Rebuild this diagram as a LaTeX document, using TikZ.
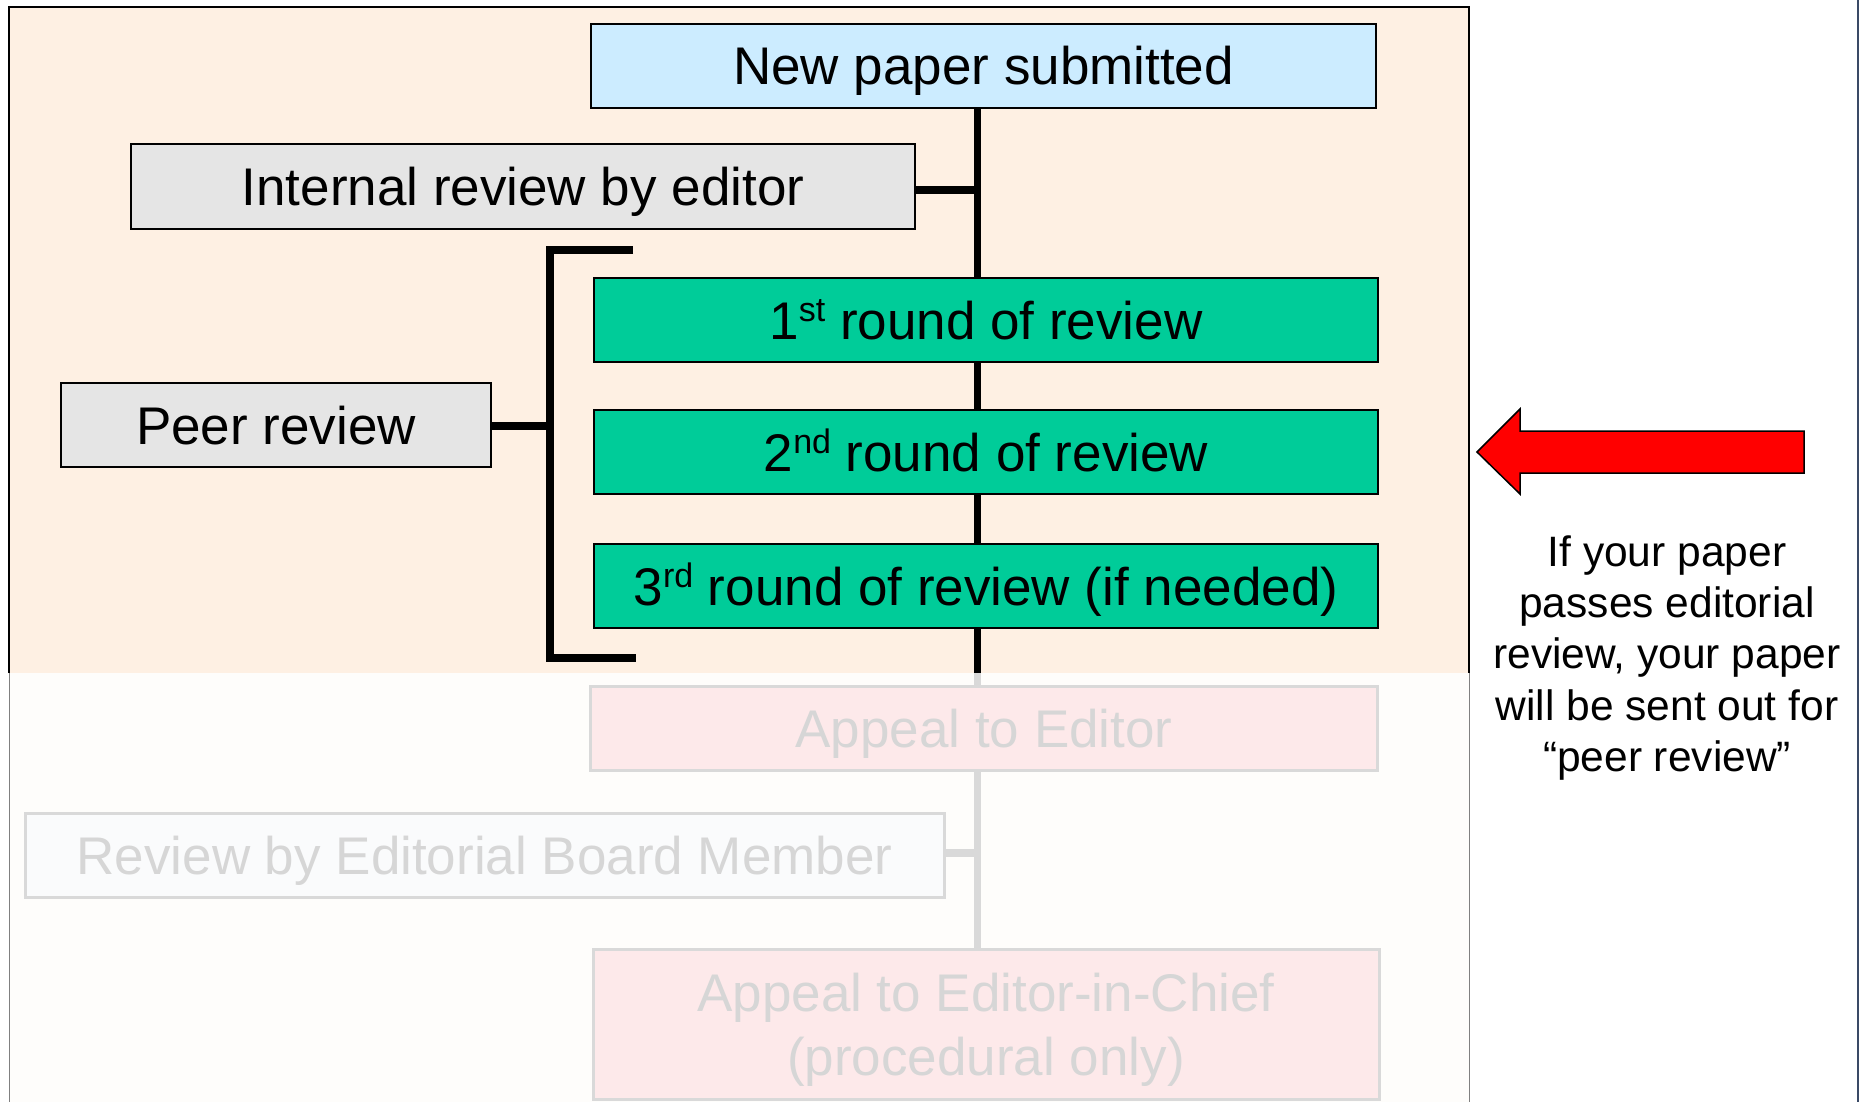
\documentclass[tikz,border=0pt]{standalone}
\usepackage{fontspec}
\setmainfont{Liberation Sans}
\definecolor{peach}{HTML}{FEF0E3}
\definecolor{lowbg}{HTML}{FEFDFB}
\definecolor{lblue}{HTML}{CCECFF}
\definecolor{gbox}{HTML}{E5E5E5}
\definecolor{green}{HTML}{00CC99}
\definecolor{pinkbox}{HTML}{FDE9EA}
\definecolor{fadeline}{HTML}{D9D9D9}
\definecolor{fadetext}{HTML}{D6D6D6}
\definecolor{ebmbox}{HTML}{FAFBFC}
\definecolor{navyedge}{HTML}{3A4A66}
\newcommand{\bigf}{\fontsize{53}{64}\selectfont}
\newcommand{\sidef}{\fontsize{42.5}{51.4}\selectfont}
\newcommand{\supx}[1]{\raisebox{18pt}{\fontsize{34}{34}\selectfont #1}}
\begin{document}
\begin{tikzpicture}[x=1pt,y=-1pt,
  box/.style={draw=black, line width=2pt, inner sep=0pt, minimum height=84pt, font=\bigf, text=black, align=center, text height=38pt, text depth=0pt},
  fadebox/.style={draw=fadeline, line width=3pt, inner sep=0pt, minimum height=84pt, font=\bigf, text=fadetext, align=center, text height=38pt, text depth=0pt},
  trunk/.style={line width=7pt, black},
  link/.style={line width=8pt, black},
  fadetrunk/.style={line width=7pt, fadeline},
  fadelink/.style={line width=8pt, fadeline}]
\useasboundingbox (0,0) rectangle (1860,1102);
\fill[white] (0,0) rectangle (1860,1102);
% backgrounds
\fill[peach] (9,7) rectangle (1469,673);
\fill[lowbg] (9,673) rectangle (1469,1102);
\draw[line width=2pt, black] (9,673) -- (9,7) -- (1469,7) -- (1469,673);
\draw[line width=1pt, gray] (9,673) -- (9,1102);
\draw[line width=1pt, gray] (1469,673) -- (1469,1102);
\draw[line width=2pt, navyedge] (1858,0) -- (1858,1102);

% nodes
\node[box, fill=lblue, minimum width=785pt] (new) at (983.5,66) {New paper submitted};
\node[box, fill=gbox, minimum width=784pt] (internal) at (523,186.5) {Internal review by editor};
\node[box, fill=green, minimum width=784pt] (r1) at (986,320) {1\supx{st} round of review};
\node[box, fill=green, minimum width=784pt] (r2) at (986,452) {2\supx{nd} round of review};
\node[box, fill=green, minimum width=784pt] (r3) at (986,586) {3\supx{rd} round of review (if needed)};
\node[box, fill=gbox, minimum width=430pt] (peer) at (276,425) {Peer review};
\node[fadebox, fill=pinkbox, minimum width=787pt] (appeal) at (984,728.5) {Appeal to Editor};
\node[fadebox, fill=ebmbox, minimum width=919pt] (ebm) at (484.5,855) {Review by Editorial Board Member};
\node[fadebox, fill=pinkbox, minimum width=786pt, minimum height=150pt, text height=102pt] (eic) at (986,1024) {Appeal to Editor-in-Chief\\(procedural only)};

% coordinates
\coordinate (cut) at (977,673);
\coordinate (bt) at (550,250);
\coordinate (bb) at (550,658);
\coordinate (btr) at (633,250);
\coordinate (bbr) at (636,658);

% trunk
\draw[trunk] (new.south -| cut) -- (r1.north -| cut);
\draw[trunk] (r1.south -| cut) -- (r2.north -| cut);
\draw[trunk] (r2.south -| cut) -- (r3.north -| cut);
\draw[trunk] (r3.south -| cut) -- (cut);
\draw[fadetrunk] (cut) -- (appeal.north -| cut);
\draw[fadetrunk] (appeal.south -| cut) -- (eic.north -| cut);
\draw[link] ([yshift=-4pt]internal.east) -- ([yshift=-4pt]internal.east -| cut);
\draw[fadelink] ([yshift=2pt]ebm.east) -- ([yshift=2pt]ebm.east -| cut);

% bracket
\draw[link, line cap=butt] (btr) -- (bt) -- (bb) -- (bbr);
\draw[link] ([yshift=-1pt]peer.east) -- ([yshift=-1pt]peer.east -| bt);

% red arrow
\draw[line width=1.5pt, black, fill=red] (1477,452) -- (1520,409) -- (1520,431) -- (1804,431) -- (1804,473) -- (1520,473) -- (1520,494) -- cycle;
\node[font=\sidef, align=center, text=black, inner sep=0pt] (note) at (1667,658) {If your paper\\passes editorial\\review, your paper\\will be sent out for\\“peer review”};
\end{tikzpicture}
\end{document}
